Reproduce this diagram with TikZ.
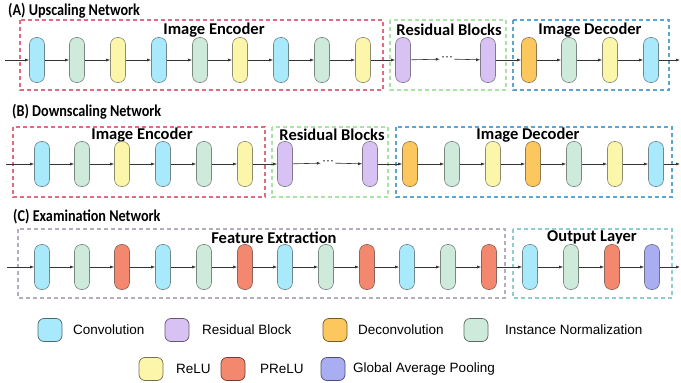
\documentclass[tikz,border=0pt]{standalone}
\usepackage{fontspec}
\setmainfont{Liberation Sans}
\newfontfamily\headfont{Carlito}
\newfontfamily\titlefont[FakeStretch=0.86]{Carlito}
\usetikzlibrary{arrows.meta}

% layer fills
\definecolor{cconv}{HTML}{A8E9FB}
\definecolor{cnorm}{HTML}{CDEADB}
\definecolor{crelu}{HTML}{FBF6A9}
\definecolor{cprelu}{HTML}{F4886F}
\definecolor{cres}{HTML}{D8C2F4}
\definecolor{cdeconv}{HTML}{FCC75C}
\definecolor{cgap}{HTML}{A9AEF2}
% group frames
\definecolor{bred}{HTML}{E26A82}
\definecolor{bgreen}{HTML}{A9E3A5}
\definecolor{bblue}{HTML}{5AA6CF}
\definecolor{bgrey}{HTML}{B5ADBE}
\definecolor{bteal}{HTML}{8FCFCB}
\definecolor{wire}{HTML}{333333}

\tikzset{
  layer/.style={rectangle, rounded corners=7pt, minimum width=15pt,
    minimum height=45pt, inner sep=0pt, fill=#1, draw=#1!45!black!80, line width=0.6pt},
  icon/.style={rectangle, rounded corners=6pt, minimum width=24pt,
    minimum height=23pt, inner sep=0pt, fill=#1, draw=#1!45!black, line width=0.7pt},
  group/.style={draw=#1, dash pattern=on 4pt off 3pt, line width=1.3pt},
  flow/.style={draw=wire, line width=0.6pt, -{Latex[length=4pt,width=3pt]}},
  title/.style={font=\titlefont\bfseries\fontsize{16.5}{18}\selectfont, inner sep=0pt, anchor=west},
  heading/.style={font=\headfont\bfseries\fontsize{16.5}{18}\selectfont, inner sep=0pt},
  dotsnode/.style={inner sep=1pt, font=\fontsize{12}{13}\selectfont},
  legendtext/.style={font=\fontsize{13.5}{15}\selectfont, anchor=west, inner sep=0pt},
}

\begin{document}
\begin{tikzpicture}[x=1pt, y=-1pt]
\useasboundingbox (0,0) rectangle (681,383);

% ---------------- (A) Upscaling Network ----------------
\node[title] (titleA) at (8,11) {(A) Upscaling Network};
\draw[group=bred]   (20,20) rectangle (383,90);
\draw[group=bgreen] (390,20) rectangle (506,90);
\draw[group=bblue]  (513,20) rectangle (669,90);
\node[heading] (encA) at (214,30) {Image Encoder};
\node[heading] (resA) at (449,30) {Residual Blocks};
\node[heading] (decA) at (590,30) {Image Decoder};

\foreach \x/\c [count=\i] in {37/cconv,77/cnorm,118/crelu,159/cconv,200/cnorm,
    240/crelu,281/cconv,322/cnorm,363/crelu,403/cres}
  \node[layer=\c] (A\i) at (\x,60) {};
\node[dotsnode] (A11) at (447,59) {···};
\foreach \x/\c [count=\i from 12] in {488/cres,529/cdeconv,569/cnorm,610/crelu,651/cconv}
  \node[layer=\c] (A\i) at (\x,60) {};

\coordinate (Ain) at (5,60);
\coordinate (Aout) at (680,60);
\draw[flow] (Ain) -- (A1);
\foreach \i [evaluate=\i as \j using int(\i+1)] in {1,...,15}
  \draw[flow] (A\i) -- (A\j);
\draw[flow] (A16) -- (Aout);

% ---------------- (B) Downscaling Network ----------------
\node[title] (titleB) at (12,112) {(B) Downscaling Network};
\draw[group=bred]   (13,127) rectangle (265,197);
\draw[group=bgreen] (272,127) rectangle (388,197);
\draw[group=bblue]  (396,127) rectangle (672,197);
\node[heading] (encB) at (142,135) {Image Encoder};
\node[heading] (resB) at (332,135) {Residual Blocks};
\node[heading] (decB) at (528,135) {Image Decoder};

\foreach \x/\c [count=\i] in {42/cconv,82/cnorm,122/crelu,163/cconv,204/cnorm,
    245/crelu,285/cres}
  \node[layer=\c] (B\i) at (\x,164) {};
\node[dotsnode] (B8) at (328,163) {···};
\foreach \x/\c [count=\i from 9] in {370/cres,410/cdeconv,452/cnorm,493/crelu,
    533/cdeconv,574/cnorm,615/crelu,656/cconv}
  \node[layer=\c] (B\i) at (\x,164) {};

\coordinate (Bin) at (6,164);
\coordinate (Bout) at (680,164);
\draw[flow] (Bin) -- (B1);
\foreach \i [evaluate=\i as \j using int(\i+1)] in {1,...,15}
  \draw[flow] (B\i) -- (B\j);
\draw[flow] (B16) -- (Bout);

% ---------------- (C) Examination Network ----------------
\node[title] (titleC) at (13,217) {(C) Examination Network};
\draw[group=bgrey] (18,229) rectangle (505,298);
\draw[group=bteal] (513,229) rectangle (672,298);
\node[heading] (featC) at (274,238) {Feature Extraction};
\node[heading] (outC) at (592,237) {Output Layer};

\foreach \x/\c [count=\i] in {42/cconv,82/cnorm,122/cprelu,163/cconv,204/cnorm,
    245/cprelu,285/cconv,326/cnorm,367/cprelu,407/cconv,448/cnorm,489/cprelu,
    530/cconv,571/cnorm,612/cprelu,652/cgap}
  \node[layer=\c] (C\i) at (\x,267) {};

\coordinate (Cin) at (7,267);
\coordinate (Cout) at (680,267);
\draw[flow] (Cin) -- (C1);
\foreach \i [evaluate=\i as \j using int(\i+1)] in {1,...,15}
  \draw[flow] (C\i) -- (C\j);
\draw[flow] (C16) -- (Cout);

% ---------------- legend ----------------
\node[icon=cconv]   (kconv)   at (50,330) {};
\node[legendtext]   (tconv)   at (73,330) {Convolution};
\node[icon=cres]    (kres)    at (177,330) {};
\node[legendtext]   (tres)    at (202,330) {Residual Block};
\node[icon=cdeconv] (kdeconv) at (335,330) {};
\node[legendtext]   (tdeconv) at (358,330) {Deconvolution};
\node[icon=cnorm]   (knorm)   at (476,330) {};
\node[legendtext]   (tnorm)   at (505,330) {Instance Normalization};

\node[icon=crelu]   (krelu)   at (151,369) {};
\node[legendtext]   (trelu)   at (176,369) {ReLU};
\node[icon=cprelu]  (kprelu)  at (233,369) {};
\node[legendtext]   (tprelu)  at (260,369) {PReLU};
\node[icon=cgap]    (kgap)    at (333,369) {};
\node[legendtext]   (tgap)    at (353,369) {Global Average Pooling};
\end{tikzpicture}
\end{document}
